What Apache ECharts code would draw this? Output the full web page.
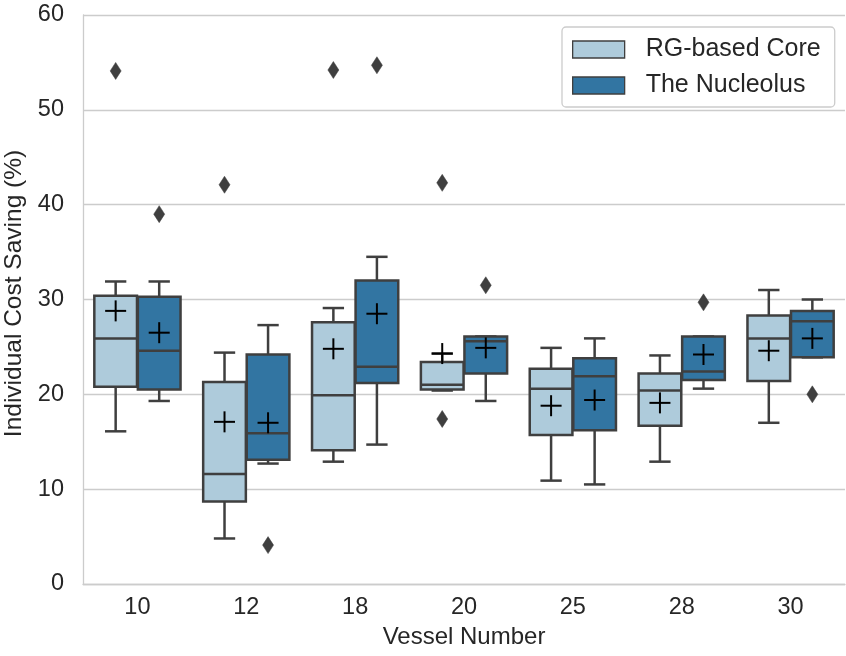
<!DOCTYPE html>
<html>
<head>
<meta charset="utf-8">
<script src="https://cdn.jsdelivr.net/npm/echarts@6/dist/echarts.min.js"></script>
<style>html,body{margin:0;padding:0;background:#fff;}#chart{width:846px;height:656px;}</style>
</head>
<body>
<div id="chart"></div>
<script>
// ---- data ----
const categories = ['10', '12', '18', '20', '25', '28', '30'];
const seriesNames = ['RG-based Core', 'The Nucleolus'];
// [min whisker, Q1, median, Q3, max whisker]
const rgBox = [
  [16.1, 20.8, 25.9, 30.4, 31.9],
  [4.8, 8.7, 11.6, 21.3, 24.4],
  [12.9, 14.1, 19.9, 27.6, 29.1],
  [20.4, 20.5, 21.0, 23.4, 24.3],
  [10.9, 15.7, 20.6, 22.7, 24.9],
  [12.9, 16.7, 20.4, 22.2, 24.1],
  [17.0, 21.4, 25.9, 28.3, 31.0]
];
const rgMean = [28.8, 17.1, 24.8, 24.3, 18.8, 19.1, 24.6];
const rgOutliers = [[0, 54.1], [1, 42.1], [2, 54.2], [3, 42.3], [3, 17.4]];
const nucBox = [
  [19.3, 20.5, 24.6, 30.3, 31.9],
  [12.7, 13.1, 15.9, 24.2, 27.3],
  [14.7, 21.2, 22.9, 32.0, 34.5],
  [19.3, 22.2, 25.6, 26.1, 26.1],
  [10.5, 16.2, 21.9, 23.8, 25.9],
  [20.6, 21.5, 22.4, 26.1, 26.1],
  [23.9, 23.9, 27.7, 28.8, 30.0]
];
const nucMean = [26.5, 17.0, 28.5, 24.9, 19.4, 24.2, 25.9];
const nucOutliers = [[0, 39.0], [1, 4.1], [2, 54.7], [3, 31.5], [5, 29.7], [6, 20.0]];
const yTicks = [0, 10, 20, 30, 40, 50, 60];

// ---- styles ----
const colors = ['#aecbdb', '#3275a2'];
const lineColor = '#3f3f3f';
const textColor = '#262626';
const FONT = 'Liberation Sans, Arial, sans-serif';

function boxData(box, mean) {
  return box.map((b, i) => [i, b[0], b[1], b[2], b[3], b[4], mean[i]]);
}

function makeBoxRender(side, fill) {
  return function (params, api) {
    const ci = api.value(0);
    const bw = api.size([1, 0])[0];
    const cx = api.coord([ci, 0])[0] + side * 0.2 * bw;
    const w = 0.392 * bw;
    const y = v => api.coord([ci, v])[1];
    const yMin = y(api.value(1)), yQ1 = y(api.value(2)), yMed = y(api.value(3)),
          yQ3 = y(api.value(4)), yMax = y(api.value(5)), yMean = y(api.value(6));
    const ls = { stroke: lineColor, lineWidth: 2.5 };
    const capW = w / 4;
    const m = 10.5;
    return {
      type: 'group',
      children: [
        { type: 'line', shape: { x1: cx, y1: yQ3, x2: cx, y2: yMax }, style: ls },
        { type: 'line', shape: { x1: cx, y1: yQ1, x2: cx, y2: yMin }, style: ls },
        { type: 'line', shape: { x1: cx - capW, y1: yMax, x2: cx + capW, y2: yMax }, style: ls },
        { type: 'line', shape: { x1: cx - capW, y1: yMin, x2: cx + capW, y2: yMin }, style: ls },
        { type: 'rect', shape: { x: cx - w / 2, y: yQ3, width: w, height: yQ1 - yQ3 },
          style: { fill: fill, stroke: lineColor, lineWidth: 2.5 } },
        { type: 'line', shape: { x1: cx - w / 2, y1: yMed, x2: cx + w / 2, y2: yMed }, style: ls },
        { type: 'line', shape: { x1: cx - m, y1: yMean, x2: cx + m, y2: yMean }, style: { stroke: '#000', lineWidth: 2 } },
        { type: 'line', shape: { x1: cx, y1: yMean - m, x2: cx, y2: yMean + m }, style: { stroke: '#000', lineWidth: 2 } }
      ]
    };
  };
}

function makeOutlierRender(side) {
  return function (params, api) {
    const ci = api.value(0);
    const bw = api.size([1, 0])[0];
    const p = api.coord([ci, api.value(1)]);
    const cx = p[0] + side * 0.2 * bw, cy = p[1];
    const hw = 5.5, hh = 8.5;
    return {
      type: 'polygon',
      shape: { points: [[cx, cy - hh], [cx + hw, cy], [cx, cy + hh], [cx - hw, cy]] },
      style: { fill: lineColor, stroke: lineColor, lineWidth: 0.5 }
    };
  };
}

const chart = echarts.init(document.getElementById('chart'), null, { renderer: 'canvas' });
chart.setOption({
  animation: false,
  backgroundColor: '#ffffff',
  textStyle: { fontFamily: FONT, color: textColor },
  grid: { left: 83, right: 1, top: 15, bottom: 72, containLabel: false, outerBoundsMode: 'none' },
  legend: {
    orient: 'vertical',
    left: 562, top: 27,
    padding: [10, 14, 9, 10],
    itemGap: 11,
    itemWidth: 52, itemHeight: 17,
    backgroundColor: '#ffffff',
    borderColor: '#cccccc', borderWidth: 1.3, borderRadius: 4,
    textStyle: { fontSize: 25, color: textColor, fontFamily: FONT, padding: [0, 0, 0, 16] },
    data: [
      { name: seriesNames[0], icon: 'rect', itemStyle: { color: colors[0], borderColor: lineColor, borderWidth: 1.3 } },
      { name: seriesNames[1], icon: 'rect', itemStyle: { color: colors[1], borderColor: lineColor, borderWidth: 1.3 } }
    ]
  },
  xAxis: {
    type: 'category',
    data: categories,
    name: 'Vessel Number',
    nameLocation: 'middle',
    nameGap: 39,
    nameTextStyle: { fontSize: 24, color: textColor, fontFamily: FONT },
    axisLine: { show: true, lineStyle: { color: '#cccccc', width: 1.3 } },
    axisTick: { show: false },
    axisLabel: { fontSize: 23.5, color: textColor, margin: 12, fontFamily: FONT },
    splitLine: { show: false }
  },
  yAxis: {
    type: 'value',
    min: 0, max: 60, interval: 10,
    name: 'Individual Cost Saving (%)',
    nameLocation: 'middle',
    nameGap: 47,
    nameTextStyle: { fontSize: 24.5, color: textColor, fontFamily: FONT, padding: [0, 0, 0, 12] },
    axisLine: { show: true, lineStyle: { color: '#cccccc', width: 1.3 } },
    axisTick: { show: false },
    axisLabel: { fontSize: 23.5, color: textColor, margin: 19, fontFamily: FONT,
      formatter: v => (yTicks.indexOf(v) >= 0 ? String(v) : '') },
    splitLine: { show: true, lineStyle: { color: '#cccccc', width: 1.3 } }
  },
  series: [
    {
      name: seriesNames[0], type: 'custom', renderItem: makeBoxRender(-1, colors[0]),
      itemStyle: { color: colors[0] },
      encode: { x: 0, y: [1, 2, 3, 4, 5, 6] },
      data: boxData(rgBox, rgMean), z: 2
    },
    {
      name: seriesNames[1], type: 'custom', renderItem: makeBoxRender(1, colors[1]),
      itemStyle: { color: colors[1] },
      encode: { x: 0, y: [1, 2, 3, 4, 5, 6] },
      data: boxData(nucBox, nucMean), z: 2
    },
    {
      name: 'rgOutliers', type: 'custom', renderItem: makeOutlierRender(-1),
      encode: { x: 0, y: 1 }, data: rgOutliers, z: 3
    },
    {
      name: 'nucOutliers', type: 'custom', renderItem: makeOutlierRender(1),
      encode: { x: 0, y: 1 }, data: nucOutliers, z: 3
    }
  ]
});
</script>
</body>
</html>
